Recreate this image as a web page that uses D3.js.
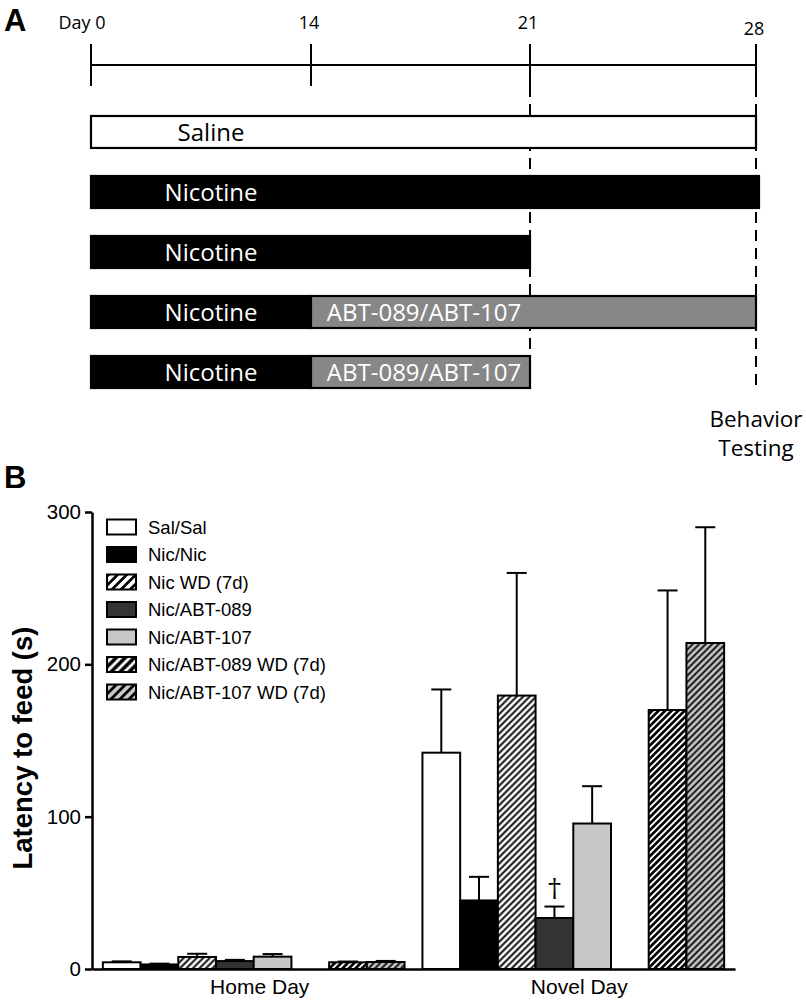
<!DOCTYPE html>
<html>
<head>
<meta charset="utf-8">
<script src="https://cdn.jsdelivr.net/npm/d3@7/dist/d3.min.js"></script>
<style>
  html, body { margin: 0; padding: 0; background: #fff; }
  svg { display: block; }
</style>
</head>
<body>
<svg id="chart" width="806" height="1001"></svg>
<script>
// ---------- Panel A data ----------
const timelineDays = [0, 14, 21, 28];
const timelineLabels = ["Day 0", "14", "21", "28"];
const dashedDays = [21, 28];
// each regimen: list of [label, startDay, endDay, kind]
const regimens = [
  [["Saline", 0, 28, "saline"]],
  [["Nicotine", 0, 28, "nic"]],
  [["Nicotine", 0, 21, "nic"]],
  [["Nicotine", 0, 14, "nic"], ["ABT-089/ABT-107", 14, 28, "abt"]],
  [["Nicotine", 0, 14, "nic"], ["ABT-089/ABT-107", 14, 21, "abt"]]
];
const testingLabel = ["Behavior", "Testing"];

// ---------- Panel B data ----------
const groups = ["Home Day", "Novel Day"];
const series = ["Sal/Sal", "Nic/Nic", "Nic WD (7d)", "Nic/ABT-089", "Nic/ABT-107", "Nic/ABT-089 WD (7d)", "Nic/ABT-107 WD (7d)"];
const homeMeans = [4.4, 3.0, 7.9, 5.2, 8.1, 4.4, 4.6];
const homeErr   = [0.6, 0.5, 2.1, 0.8, 1.7, 0.5, 0.7];
const novelMeans = [142, 45, 179.5, 33.5, 95.5, 170, 214];
const novelErr   = [41.5, 15.5, 80.5, 7.5, 24.5, 78.5, 76];
const yTicks = [0, 100, 200, 300];
const daggerSeries = "Nic/ABT-089";

const svg = d3.select("#chart");
const defs = svg.append("defs");

// ---------- Panel A ----------
const xa = d3.scaleLinear().domain(timelineDays).range([91, 311, 530, 756]);
const fontA = "'Open Sans', 'Noto Sans', sans-serif";

svg.append("text").attr("x", 4).attr("y", 31)
  .attr("font-family", "'Liberation Sans', Arial, sans-serif")
  .attr("font-weight", "bold").attr("font-size", 31).text("A");

const tl = svg.append("g");
tl.append("line").attr("x1", xa(0)).attr("x2", xa(28)).attr("y1", 65).attr("y2", 65)
  .attr("stroke", "#000").attr("stroke-width", 2);
tl.selectAll("line.tick").data(timelineDays).join("line").attr("class", "tick")
  .attr("x1", d => xa(d)).attr("x2", d => xa(d)).attr("y1", 44).attr("y2", 86)
  .attr("stroke", "#000").attr("stroke-width", 2);
tl.selectAll("text").data(timelineDays).join("text")
  .attr("x", (d, i) => xa(d) + (i === 0 ? -9 : -2))
  .attr("y", (d, i) => i === 3 ? 35 : 29)
  .attr("text-anchor", "middle")
  .attr("font-family", fontA).attr("font-size", 18)
  .text((d, i) => timelineLabels[i]);

// dashed lines
svg.selectAll("line.dash").data(dashedDays).join("line").attr("class", "dash")
  .attr("x1", d => xa(d)).attr("x2", d => xa(d)).attr("y1", 86).attr("y2", 390)
  .attr("stroke", "#000").attr("stroke-width", 2).attr("stroke-dasharray", "11,7");

const rowY = d3.scaleBand().domain(d3.range(regimens.length)).range([116, 388]).paddingInner(0.467);
const fillA = { saline: "#fff", nic: "#000", abt: "#878787" };
const textA = { saline: "#000", nic: "#fff", abt: "#fff" };

regimens.forEach((segs, r) => {
  const g = svg.append("g");
  g.selectAll("rect").data(segs).join("rect")
    .attr("x", d => xa(d[1])).attr("width", d => xa(d[2]) - xa(d[1]) + (r === 1 ? 3 : 0))
    .attr("y", rowY(r)).attr("height", rowY.bandwidth())
    .attr("fill", d => fillA[d[3]]).attr("stroke", "#000").attr("stroke-width", 2.2);
  g.selectAll("text").data(segs).join("text")
    .attr("x", d => d[3] === "abt" ? xa(d[1]) + 113 : xa(d[1]) + 120)
    .attr("y", rowY(r) + rowY.bandwidth() / 2 + 9)
    .attr("text-anchor", "middle")
    .attr("font-family", fontA).attr("font-size", 24)
    .attr("fill", d => textA[d[3]])
    .text(d => d[0]);
});

svg.selectAll("text.testing").data(testingLabel).join("text").attr("class", "testing")
  .attr("x", xa(28)).attr("y", (d, i) => 427 + i * 29)
  .attr("text-anchor", "middle").attr("font-family", fontA).attr("font-size", 22.5)
  .text(d => d);

// ---------- Panel B ----------
svg.append("text").attr("x", 4).attr("y", 488)
  .attr("font-family", "'Liberation Sans', Arial, sans-serif")
  .attr("font-weight", "bold").attr("font-size", 31).text("B");

function hatch(id, bg, sw, size) {
  const p = defs.append("pattern").attr("id", id).attr("patternUnits", "userSpaceOnUse")
    .attr("width", size).attr("height", size).attr("patternTransform", "rotate(45)");
  p.append("rect").attr("width", size).attr("height", size).attr("fill", bg);
  p.append("line").attr("x1", size / 2).attr("x2", size / 2).attr("y1", 0).attr("y2", size)
    .attr("stroke", "#000").attr("stroke-width", sw);
}
hatch("hWD", "#fff", 1.9, 4.6);
hatch("h089", "#fff", 2.7, 4.6);
hatch("h107", "#c8c8c8", 1.8, 4.6);
hatch("lWD", "#fff", 2.8, 6.4);
hatch("l089", "#fff", 3.6, 6.4);
hatch("l107", "#c8c8c8", 2.8, 6.4);

const fills = ["#fff", "#000", "url(#hWD)", "#333", "#c8c8c8", "url(#h089)", "url(#h107)"];
const legendFills = ["#fff", "#000", "url(#lWD)", "#333", "#c8c8c8", "url(#l089)", "url(#l107)"];
const slotOf = [0, 1, 2, 3, 4, 6, 7];

const x0 = d3.scaleBand().domain(groups).range([92, 735]).paddingInner(0.056).paddingOuter(0.034);
const x1 = d3.scaleBand().domain(d3.range(8)).range([0, x0.bandwidth()]).padding(0);
const y = d3.scaleLinear().domain([0, 300]).range([969, 512]);

const fontB = "'Liberation Sans', Arial, Helvetica, sans-serif";

const data = [];
groups.forEach((g, gi) => {
  const means = gi === 0 ? homeMeans : novelMeans;
  const errs = gi === 0 ? homeErr : novelErr;
  series.forEach((s, si) => data.push({ group: g, s, si, v: means[si], e: errs[si] }));
});

const bars = svg.append("g");
bars.selectAll("rect").data(data).join("rect")
  .attr("x", d => x0(d.group) + x1(slotOf[d.si]))
  .attr("width", x1.bandwidth())
  .attr("y", d => y(d.v))
  .attr("height", d => y(0) - y(d.v))
  .attr("fill", d => fills[d.si])
  .attr("stroke", "#000").attr("stroke-width", 2);

const err = svg.append("g").attr("stroke", "#000").attr("stroke-width", 2);
const cx = d => x0(d.group) + x1(slotOf[d.si]) + x1.bandwidth() / 2;
err.selectAll("line.v").data(data).join("line").attr("class", "v")
  .attr("x1", cx).attr("x2", cx).attr("y1", d => y(d.v)).attr("y2", d => y(d.v + d.e));
err.selectAll("line.c").data(data).join("line").attr("class", "c")
  .attr("x1", d => cx(d) - 10).attr("x2", d => cx(d) + 10)
  .attr("y1", d => y(d.v + d.e)).attr("y2", d => y(d.v + d.e));

// dagger
const dg = data.find(d => d.group === "Novel Day" && d.s === daggerSeries);
svg.append("text").attr("x", cx(dg)).attr("y", y(dg.v + dg.e) - 10)
  .attr("text-anchor", "middle").attr("font-family", "'DejaVu Serif', 'Liberation Serif', serif")
  .attr("font-size", 26).text("\u2020");

// axes
const yAxis = svg.append("g").attr("transform", "translate(92,0)")
  .call(d3.axisLeft(y).tickValues(yTicks).tickSize(7).tickSizeOuter(0).tickPadding(4));
yAxis.select(".domain").attr("stroke-width", 2.5);
yAxis.selectAll(".tick line").attr("stroke-width", 2.5);
yAxis.selectAll(".tick text").attr("font-family", fontB).attr("font-size", 20.5).attr("fill", "#000");

const xAxis = svg.append("g").attr("transform", "translate(0,969)")
  .call(d3.axisBottom(x0).tickSize(0).tickSizeOuter(0).tickPadding(10));
xAxis.select(".domain").attr("stroke-width", 2.5);
xAxis.selectAll(".tick text").attr("font-family", fontB).attr("font-size", 21).attr("fill", "#000")
  .attr("dx", 6);

svg.append("text")
  .attr("transform", "translate(32,748) rotate(-90)")
  .attr("text-anchor", "middle").attr("font-family", fontB).attr("font-weight", "bold")
  .attr("font-size", 27.5).text("Latency to feed (s)");

// legend
const leg = svg.append("g");
const legY = i => 527 + i * 27.5;
leg.selectAll("rect").data(series).join("rect")
  .attr("x", 107).attr("y", (d, i) => legY(i) - 7.5).attr("width", 29).attr("height", 15)
  .attr("fill", (d, i) => legendFills[i]).attr("stroke", "#000").attr("stroke-width", 2);
leg.selectAll("text").data(series).join("text")
  .attr("x", 148).attr("y", (d, i) => legY(i) + 6.5)
  .attr("font-family", fontB).attr("font-size", 18.5)
  .text(d => d);
</script>
</body>
</html>
